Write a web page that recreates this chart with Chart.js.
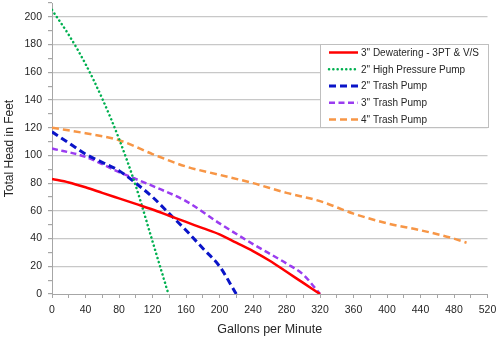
<!DOCTYPE html>
<html>
<head>
<meta charset="utf-8">
<script src="https://cdn.jsdelivr.net/npm/chart.js@4.4.1/dist/chart.umd.min.js"></script>
<style>
  html, body { margin: 0; padding: 0; background: #fff; }
  #wrap { width: 500px; height: 341px; position: relative; }
</style>
</head>
<body>
<div id="wrap"><canvas id="pumpChart" width="500" height="341"></canvas></div>
<script>
const seriesNames = ['3" Dewatering - 3PT & V/S', '2" High Pressure Pump', '2" Trash Pump', '3" Trash Pump', '4" Trash Pump'];

const dewaterGpm  = [0, 20, 40, 60, 80, 100, 120, 140, 160, 180, 200, 220, 240, 260, 280, 300, 320];
const dewaterHead = [83, 80.5, 77, 73, 69, 65, 61, 56.5, 52, 47.5, 43, 37, 31, 24, 16, 8, 0];

const highPressGpm  = [0, 20, 40, 60, 80, 100, 120, 139];
const highPressHead = [205, 187, 166, 141, 112, 78, 38, 0];

const trash2Gpm  = [0, 20, 40, 60, 80, 100, 120, 140, 160, 180, 200, 220];
const trash2Head = [117, 109, 101, 95, 89, 80, 70, 58, 46, 33, 20, 0];

const trash3Gpm  = [0, 40, 80, 120, 160, 200, 240, 280, 300, 320];
const trash3Head = [105, 99, 88, 78, 67, 51, 36, 22, 14, 0];

const trash4Gpm  = [0, 40, 80, 120, 160, 200, 240, 280, 320, 360, 400, 440, 480, 495];
const trash4Head = [120, 116, 111, 101, 92, 86, 80, 73, 67, 58, 51, 46, 40, 37];

const xTickStep = 20, xLabelStep = 40, xMax = 520;
const yTickStep = 10, yLabelStep = 20, yMax = 210, yTopLabel = 200;

function pairs(xs, ys) {
  return xs.map(function (x, i) { return { x: x, y: ys[i] }; });
}

const styles = [
  { color: '#ff0000', width: 2.5, dash: [], cap: 'butt' },
  { color: '#00b050', width: 2.5, dash: [0.1, 4.2], cap: 'round' },
  { color: '#0a14c8', width: 3, dash: [7, 4], cap: 'butt' },
  { color: '#9a3cf0', width: 2.5, dash: [6, 3.5], cap: 'butt' },
  { color: '#f79646', width: 2.5, dash: [7, 4], cap: 'butt' }
];

const allData = [
  pairs(dewaterGpm, dewaterHead),
  pairs(highPressGpm, highPressHead),
  pairs(trash2Gpm, trash2Head),
  pairs(trash3Gpm, trash3Head),
  pairs(trash4Gpm, trash4Head)
];

const datasets = allData.map(function (d, i) {
  return {
    label: seriesNames[i],
    data: d,
    borderColor: styles[i].color,
    backgroundColor: styles[i].color,
    borderWidth: styles[i].width,
    borderDash: styles[i].dash,
    borderCapStyle: styles[i].cap,
    pointRadius: 0,
    cubicInterpolationMode: 'monotone',
    fill: false
  };
});

const textFont = 'Liberation Sans';

// legend box drawn inside the plot, like the spreadsheet original
const boxLegend = {
  id: 'boxLegend',
  afterDatasetsDraw(chart) {
    const ctx = chart.ctx;
    const bx = 320.5, by = 44.5, bw = 168, bh = 83;
    ctx.save();
    ctx.fillStyle = '#ffffff';
    ctx.fillRect(bx, by, bw, bh);
    ctx.strokeStyle = '#bfbfbf';
    ctx.lineWidth = 1;
    ctx.strokeRect(bx, by, bw, bh);
    ctx.font = '10px "' + textFont + '"';
    ctx.textBaseline = 'middle';
    chart.data.datasets.forEach(function (ds, i) {
      const y = 52.5 + i * 16.75;
      const s = styles[i];
      ctx.beginPath();
      ctx.strokeStyle = s.color;
      ctx.lineWidth = s.width;
      ctx.lineCap = s.cap;
      ctx.setLineDash(s.dash);
      ctx.moveTo(329, y);
      ctx.lineTo(358, y);
      ctx.stroke();
      ctx.setLineDash([]);
      ctx.fillStyle = '#262626';
      ctx.fillText(ds.label, 361, y + 0.5);
    });
    ctx.restore();
  }
};

new Chart(document.getElementById('pumpChart'), {
  type: 'line',
  data: { datasets: datasets },
  plugins: [boxLegend],
  options: {
    responsive: false,
    animation: false,
    layout: { padding: { top: 3, right: 12.5, left: 0, bottom: 0 } },
    plugins: {
      legend: { display: false },
      tooltip: { enabled: false }
    },
    scales: {
      x: {
        type: 'linear',
        min: 0,
        max: xMax,
        afterFit: function (scale) {
          scale.height = 47;
          scale.paddingLeft = 0;
          scale.paddingRight = 0;
        },
        border: { color: '#a6a6a6', width: 1 },
        grid: { drawOnChartArea: false, tickLength: 4, tickColor: '#a6a6a6' },
        ticks: {
          stepSize: xTickStep,
          autoSkip: false,
          maxRotation: 0,
          padding: 6,
          color: '#262626',
          font: { family: textFont, size: 10.5 },
          callback: function (v) { return v % xLabelStep === 0 ? String(v) : ''; }
        },
        title: {
          display: true,
          text: 'Gallons per Minute',
          color: '#262626',
          font: { family: textFont, size: 12.5 },
          padding: { top: 0, bottom: 4 }
        }
      },
      y: {
        type: 'linear',
        min: 0,
        max: yMax,
        afterFit: function (scale) {
          scale.width = 52;
          scale.paddingTop = 0;
          scale.paddingBottom = 0;
        },
        border: { color: '#a6a6a6', width: 1 },
        grid: {
          color: function (c) {
            const v = c.tick && c.tick.value;
            return (v % yLabelStep === 0 && v > 0 && v <= yTopLabel) ? '#c8c8c8' : 'rgba(0,0,0,0)';
          },
          lineWidth: 1.2,
          tickLength: 4,
          tickColor: '#a6a6a6'
        },
        ticks: {
          stepSize: yTickStep,
          autoSkip: false,
          padding: 6,
          color: '#262626',
          font: { family: textFont, size: 10.5 },
          callback: function (v) { return (v % yLabelStep === 0 && v <= yTopLabel) ? String(v) : ''; }
        },
        title: {
          display: true,
          text: 'Total Head in Feet',
          color: '#262626',
          font: { family: textFont, size: 12 },
          padding: { top: 2, bottom: 0 }
        }
      }
    }
  }
});
</script>
</body>
</html>
